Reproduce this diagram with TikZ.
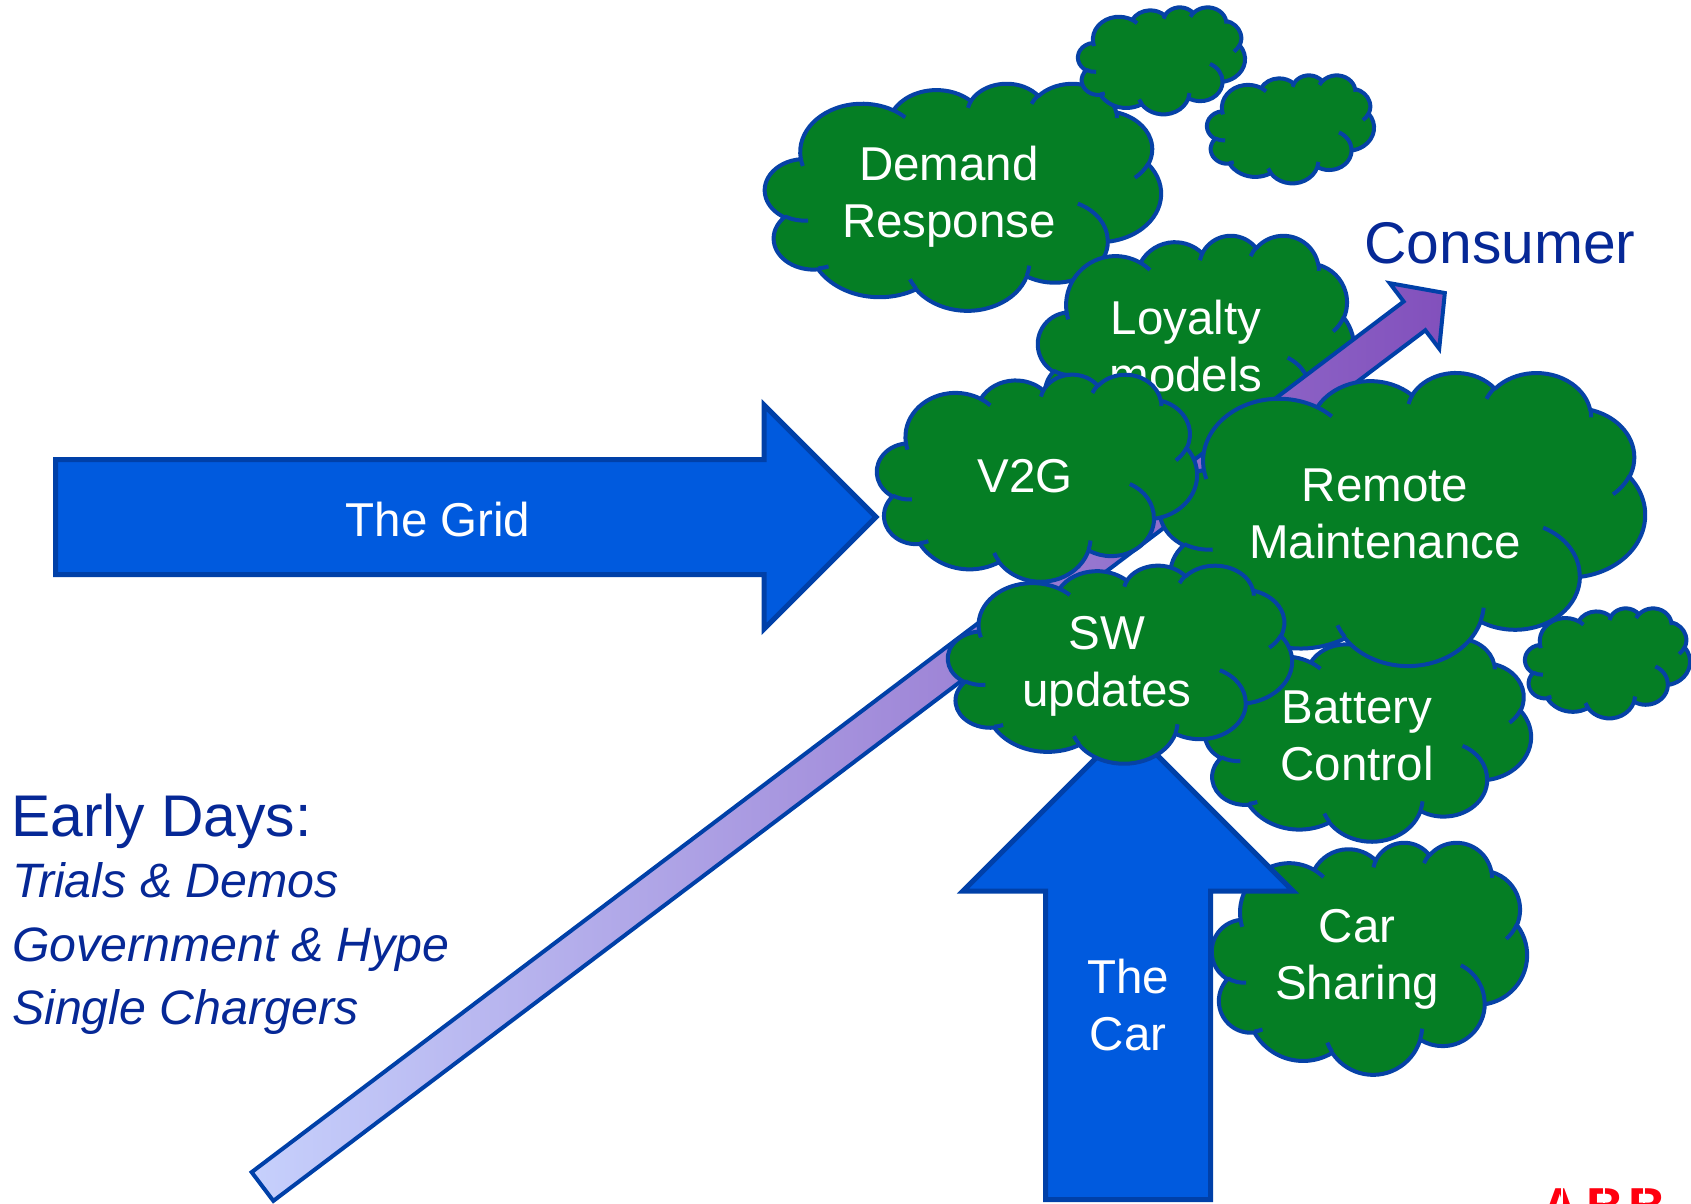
\documentclass[tikz,border=0pt]{standalone}
\usepackage{fontspec}
\setmainfont{Liberation Sans}
\definecolor{cgreen}{RGB}{5,126,36}
\definecolor{cedge}{RGB}{6,66,166}
\definecolor{afill}{RGB}{0,90,222}
\definecolor{aedge}{RGB}{0,64,168}
\definecolor{tblue}{RGB}{6,40,150}
\definecolor{ctail}{RGB}{198,208,252}
\definecolor{chead}{RGB}{130,80,188}
\definecolor{abbred}{RGB}{255,0,15}

\def\cldarc#1#2#3#4{arc[x radius=#1,y radius=#2,start angle={vt(#1,#2,#3)},delta angle={vd(#1,#2,#3,#4)}]}

\newcommand\twolines[2]{\begin{tabular}[t]{@{}c@{}}#1\\#2\end{tabular}}

% #1 name, #2 x, #3 y, #4 w, #5 h  (pixel box, y downwards)
\newcommand\pptcloud[5]{%
 \begin{scope}[x={(#4pt/43.2,0pt)},y={(0pt,-#5pt/43.2)},shift={(#2pt,-#3pt)}]
  \coordinate (#1) at (21.6,21.6);
  \filldraw[cloudbody] (3.900,14.370)
    \cldarc{6.753}{9.190}{-190.48748}{123.78053}
    \cldarc{5.333}{7.267}{-144.10238}{89.94523}
    \cldarc{4.365}{5.945}{-145.80792}{99.72302}
    \cldarc{4.857}{6.595}{-130.98607}{117.24173}
    \cldarc{5.333}{7.273}{-78.70888}{109.02692}
    \cldarc{6.775}{9.220}{-46.26725}{130.269}
    \cldarc{5.785}{7.867}{0.62502}{114.03333}
    \cldarc{6.752}{9.215}{22.4516}{115.17255}
    \cldarc{7.720}{10.543}{66.24263}{75.71102}
    \cldarc{4.360}{5.918}{-274.94208}{146.73557}
    \cldarc{4.345}{5.945}{-246.8285}{152.51885}
    -- cycle;
  \draw[cloudline]
    (4.693,26.177) \cldarc{4.345}{5.945}{86.742}{26.4295}
    (6.928,34.899) \cldarc{4.360}{5.918}{73.61047}{11.44747}
    (16.478,39.090) \cldarc{6.752}{9.215}{137.62415}{14.0811}
    (28.827,34.751) \cldarc{6.752}{9.215}{6.45327}{15.99835}
    (34.129,22.954) \cldarc{5.785}{7.867}{-70.29235}{70.91737}
    (41.798,15.354) \cldarc{5.333}{7.273}{30.31803}{27.7515}
    (38.324,5.426) \cldarc{4.857}{6.595}{-13.74433}{14.8589}
    (29.078,3.952) \cldarc{4.857}{6.595}{-149.18145}{18.19537}
    (22.141,4.720) \cldarc{4.365}{5.945}{-163.49427}{17.68635}
    (14.000,5.192) \cldarc{6.753}{9.190}{-66.70695}{12.31935}
    (4.127,15.789) \cldarc{6.753}{9.190}{157.65435}{11.85817};
 \end{scope}}

\begin{document}
\begin{tikzpicture}[x=1pt,y=-1pt,
  declare function={vt(\cw,\ch,\ca)=atan2(\cw*sin(\ca),\ch*cos(\ca));
                    vd(\cw,\ch,\ca,\cs)=mod(vt(\cw,\ch,\ca+\cs)-vt(\cw,\ch,\ca)+720,360);},
  cloudbody/.style={fill=cgreen,draw=cedge,line width=4pt,line join=round},
  cloudline/.style={draw=cedge,line width=4pt},
  ctext/.style={text=white,font=\fontsize{47.5}{57.5}\selectfont,inner sep=0pt,anchor=base},
  bigarrow/.style={fill=afill,draw=aedge,line width=5pt,line join=miter},
  consarrow/.style={draw=aedge,line width=4pt,left color=ctail,right color=chead},
  bluetext/.style={text=tblue,inner sep=0pt,anchor=base west},
  abb/.style={text=abbred,font=\fontsize{52}{52}\selectfont\bfseries,inner sep=0pt}]
\useasboundingbox (0,0) rectangle (1691,1203);

% clouds behind the consumer arrow
\pptcloud{dr}{765}{83}{396}{227}
\node[ctext] (drtext) at (949,180) {\twolines{Demand}{Response}};
\pptcloud{small1}{1078}{7}{167}{107}
\pptcloud{small2}{1207}{75}{167}{108}
\pptcloud{loyal}{1038}{235}{316}{231}
\node[ctext] (loyaltext) at (1186,334) {\twolines{Loyalty}{models}};

% consumer arrow
\begin{scope}[shift={(262.5pt,-1186.5pt)},rotate=37.08]
  \draw[consarrow] (0,-18) coordinate (constail) -- (1444,-18) -- (1444,-41)
    -- (1482,0) coordinate (constip) -- (1444,41) -- (1444,18) -- (0,18) -- cycle;
\end{scope}

\pptcloud{battery}{1205}{638}{326}{203}
\node[ctext] (batterytext) at (1357,723) {\twolines{Battery}{Control}};
\pptcloud{remote}{1160}{372}{485}{293}
\node[ctext] (remotetext) at (1385,501) {\twolines{Remote}{Maintenance}};
\pptcloud{small3}{1525}{608}{165}{110}

% the grid arrow
\draw[bigarrow] (55.5,459.5) -- (764,459.5) -- (764,405) -- (876,517)
  -- (764,629) -- (764,574.5) -- (55.5,574.5) -- cycle;
\node[ctext] (gridtext) at (438,536.7) {The Grid};

\pptcloud{vtwog}{877}{374}{320}{207}
\node[ctext] (vtwogtext) at (1025,492) {V2G};

\pptcloud{carsharing}{1212}{842}{315}{232}
\node[ctext] (carsharingtext) at (1357,942) {\twolines{Car}{Sharing}};

% the car arrow
\draw[bigarrow] (1045.5,1199.5) -- (1045.5,891) -- (963,891) -- (1128,726)
  -- (1293,891) -- (1210.5,891) -- (1210.5,1199.5) -- cycle;
\node[ctext] (cartext) at (1128,993) {\twolines{The}{Car}};

\pptcloud{sw}{948}{565}{344}{198}
\node[ctext] (swtext) at (1107,649) {\twolines{SW}{updates}};

% texts
\node[bluetext,font=\fontsize{58.8}{58.8}\selectfont] (consumer) at (1364,263) {Consumer};
\node[bluetext,font=\fontsize{58.8}{58.8}\selectfont] (early) at (11,836) {Early Days:};
\node[bluetext,font=\fontsize{48.3}{48.3}\selectfont\itshape] (trials) at (12,897) {Trials \& Demos};
\node[bluetext,font=\fontsize{48.3}{48.3}\selectfont\itshape] (gov) at (12,961) {Government \& Hype};
\node[bluetext,font=\fontsize{48.3}{48.3}\selectfont\itshape] (single) at (12,1024) {Single Chargers};

% logo, cut by the lower edge
\begin{scope}
  \clip (0,0) rectangle (1691,1203);
  \node[abb,anchor=base] (abbA) at (1560,1224) {A};
  \node[abb,anchor=base west] (abbB) at (1586,1224) {B};
  \node[abb,anchor=base west] (abbC) at (1628,1224) {B};
  \draw[white,line width=1.5pt] (1562,1183) -- (1562,1203) (1604,1183) -- (1604,1203)
    (1644,1183) -- (1644,1203);
\end{scope}
\end{tikzpicture}
\end{document}
